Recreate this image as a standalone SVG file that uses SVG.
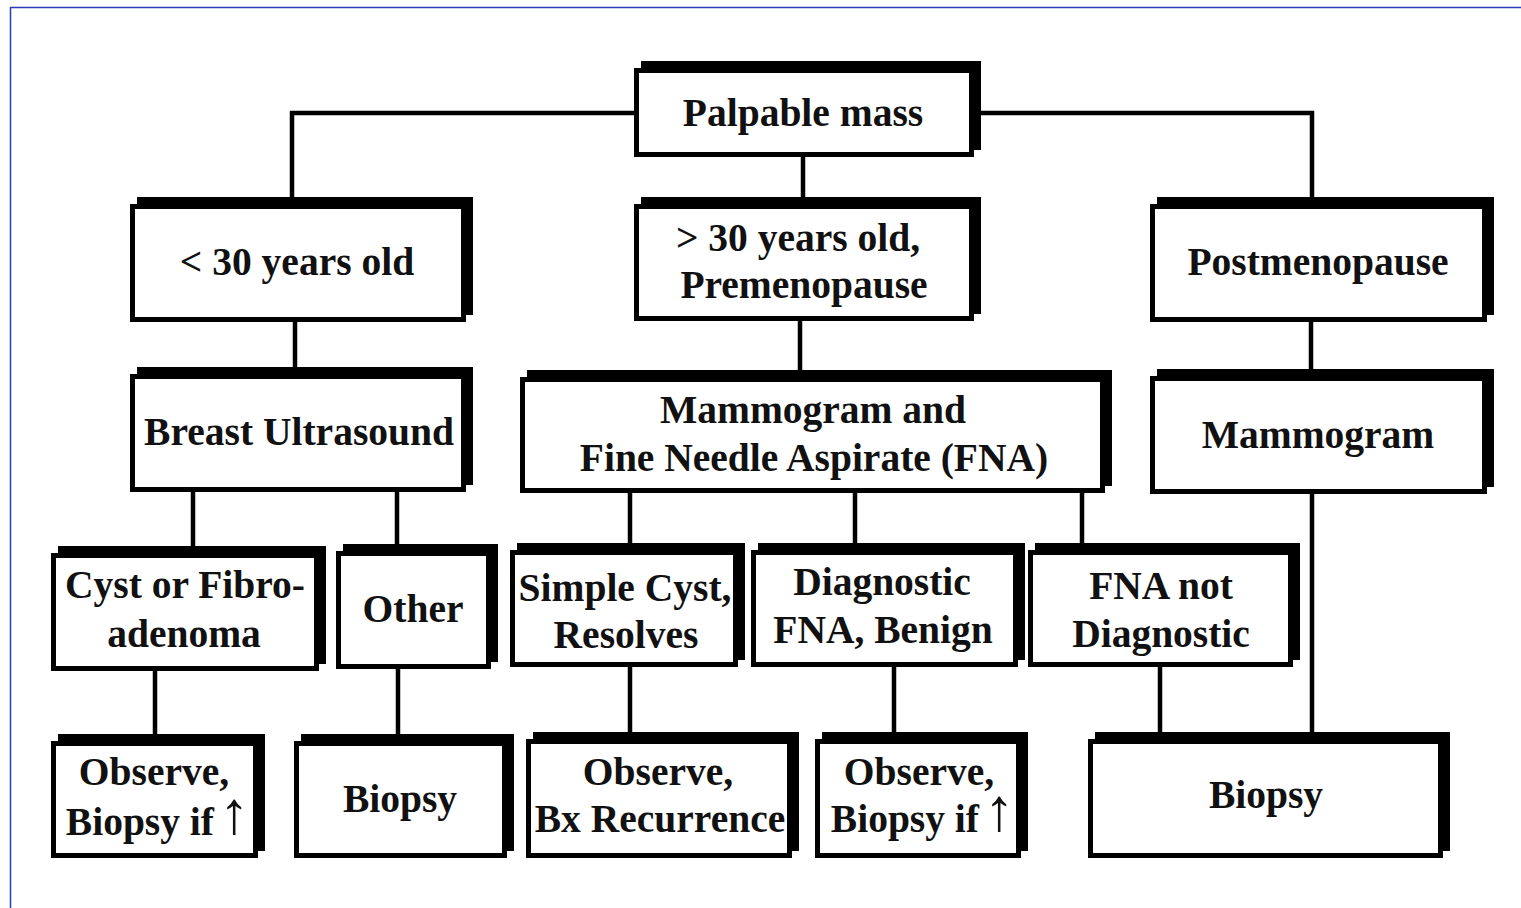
<svg xmlns="http://www.w3.org/2000/svg" width="1521" height="908" viewBox="0 0 1521 908">
<style>
.sh{fill:#000}
.bx{fill:#fff;stroke:#000;stroke-width:5}
.cn{fill:none;stroke:#000;stroke-width:4.5}
text{font-family:"Liberation Serif","Times New Roman",serif;font-weight:bold;font-size:39.5px;fill:#111;text-anchor:middle}
text.e{text-anchor:end}
text.ar{font-weight:normal;font-size:60px}
</style>
<rect width="1521" height="908" fill="#fff"/>
<rect x="10.5" y="7.5" width="1530" height="920" fill="none" stroke="#2a3cb8" stroke-width="1.5"/>
<g id="connectors">
<path class="cn" d="M636 113H292V200"/>
<path class="cn" d="M972 113H1312V200"/>
<path class="cn" d="M803 157V200"/>
<path class="cn" d="M295 322V370"/>
<path class="cn" d="M800 321V372"/>
<path class="cn" d="M1311 322V372"/>
<path class="cn" d="M193 492V549"/>
<path class="cn" d="M397 492V547"/>
<path class="cn" d="M630 493V546"/>
<path class="cn" d="M855 493V546"/>
<path class="cn" d="M1082 493V546"/>
<path class="cn" d="M155 671V737"/>
<path class="cn" d="M398 669V737"/>
<path class="cn" d="M630 667V735"/>
<path class="cn" d="M894 667V735"/>
<path class="cn" d="M1160 667V735"/>
<path class="cn" d="M1312 494V735"/>
</g>
<g id="palpable"><rect class="sh" x="641" y="61" width="340" height="89"/><rect class="bx" x="636.5" y="70.5" width="335" height="84"/><text x="803" y="126">Palpable mass</text></g>
<g id="lt30"><rect class="sh" x="137" y="197" width="336" height="118"/><rect class="bx" x="132.5" y="206.5" width="331" height="113"/><text x="297" y="275">&lt; 30 years old</text></g>
<g id="gt30"><rect class="sh" x="641" y="197" width="340" height="117"/><rect class="bx" x="636.5" y="206.5" width="335" height="112"/><text x="798" y="251">&gt; 30 years old,</text><text x="804" y="298">Premenopause</text></g>
<g id="post"><rect class="sh" x="1157" y="197" width="337" height="118"/><rect class="bx" x="1152.5" y="206.5" width="332" height="113"/><text x="1318" y="275">Postmenopause</text></g>
<g id="us"><rect class="sh" x="137" y="367" width="336" height="118"/><rect class="bx" x="132.5" y="376.5" width="331" height="113"/><text x="299" y="445">Breast Ultrasound</text></g>
<g id="mammofna"><rect class="sh" x="527" y="370" width="585" height="116"/><rect class="bx" x="522.5" y="379.5" width="580" height="111"/><text x="813" y="423">Mammogram and</text><text x="814" y="471">Fine Needle Aspirate (FNA)</text></g>
<g id="mammo"><rect class="sh" x="1157" y="369" width="337" height="118"/><rect class="bx" x="1152.5" y="378.5" width="332" height="113"/><text x="1318" y="448">Mammogram</text></g>
<g id="cyst"><rect class="sh" x="58" y="546" width="268" height="118"/><rect class="bx" x="53.5" y="555.5" width="263" height="113"/><text x="185" y="598">Cyst or Fibro-</text><text x="184" y="647">adenoma</text></g>
<g id="other"><rect class="sh" x="343" y="544" width="155" height="118"/><rect class="bx" x="338.5" y="553.5" width="150" height="113"/><text x="413" y="622">Other</text></g>
<g id="simple"><rect class="sh" x="517" y="543" width="228" height="117"/><rect class="bx" x="512.5" y="552.5" width="223" height="112"/><text x="625" y="601">Simple Cyst,</text><text x="626" y="648">Resolves</text></g>
<g id="diag"><rect class="sh" x="758" y="543" width="267" height="117"/><rect class="bx" x="753.5" y="552.5" width="262" height="112"/><text x="882" y="595">Diagnostic</text><text x="883" y="643">FNA, Benign</text></g>
<g id="fnanot"><rect class="sh" x="1035" y="543" width="265" height="117"/><rect class="bx" x="1030.5" y="552.5" width="260" height="112"/><text x="1161" y="599">FNA not</text><text x="1161" y="647">Diagnostic</text></g>
<g id="obs1"><rect class="sh" x="58" y="734" width="207" height="117"/><rect class="bx" x="53.5" y="743.5" width="202" height="112"/><text x="154" y="785">Observe,</text><text class="e" x="214" y="835">Biopsy if</text><text class="ar" x="234" y="833">↑</text></g>
<g id="biopsy1"><rect class="sh" x="301" y="734" width="213" height="117"/><rect class="bx" x="296.5" y="743.5" width="208" height="112"/><text x="400" y="812">Biopsy</text></g>
<g id="obs2"><rect class="sh" x="533" y="732" width="266" height="119"/><rect class="bx" x="528.5" y="741.5" width="261" height="114"/><text x="658" y="785">Observe,</text><text x="660" y="832">Bx Recurrence</text></g>
<g id="obs3"><rect class="sh" x="822" y="732" width="206" height="119"/><rect class="bx" x="817.5" y="741.5" width="201" height="114"/><text x="919" y="785">Observe,</text><text class="e" x="979" y="832">Biopsy if</text><text class="ar" x="999" y="830">↑</text></g>
<g id="biopsy2"><rect class="sh" x="1095" y="732" width="355" height="119"/><rect class="bx" x="1090.5" y="741.5" width="350" height="114"/><text x="1266" y="808">Biopsy</text></g>
</svg>
